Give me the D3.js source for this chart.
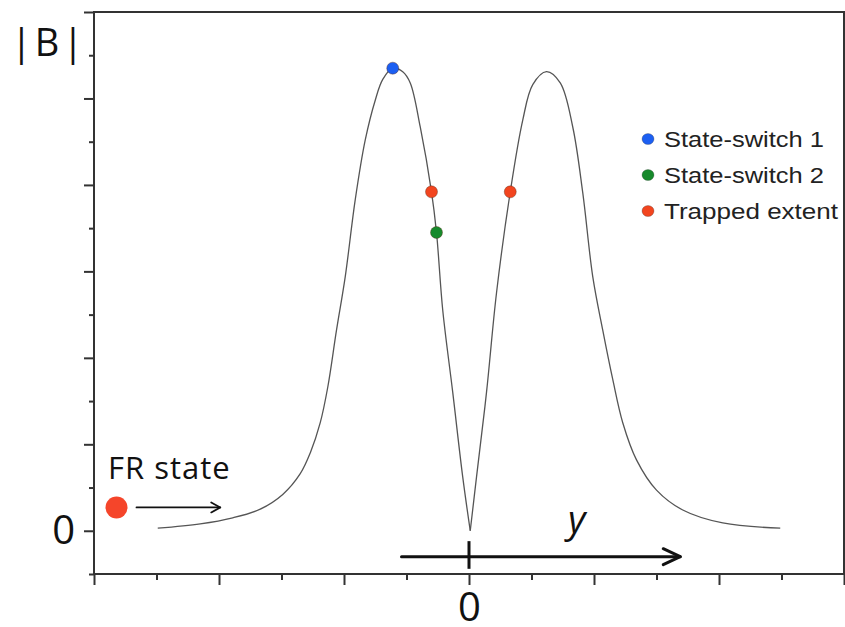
<!DOCTYPE html>
<html>
<head>
<meta charset="utf-8">
<script src="https://cdn.jsdelivr.net/npm/d3@7"></script>
<style>
  html, body { margin: 0; padding: 0; background: #fff; }
  svg { display: block; }
</style>
</head>
<body>
<svg id="chart" width="845" height="627"></svg>
<script>
// |B| profile along y: left branch (up to the null) and right branch (from the null)
const leftY = [-2.49, -2.15, -1.89, -1.67, -1.49, -1.35, -1.27, -1.19, -1.13, -1.06, -0.99, -0.91, -0.83, -0.75, -0.69, -0.61, -0.53, -0.47, -0.39, -0.30, -0.26, -0.21, -0.13, -0.05, 0.01];
const leftB = [0.03, 0.08, 0.15, 0.25, 0.42, 0.66, 0.90, 1.25, 1.66, 2.32, 2.94, 3.83, 4.52, 4.98, 5.22, 5.35, 5.31, 5.18, 4.67, 3.92, 3.45, 2.55, 1.60, 0.62, 0.00];
const rightY = [0.01, 0.06, 0.14, 0.22, 0.33, 0.43, 0.51, 0.62, 0.73, 0.83, 0.91, 0.99, 1.07, 1.15, 1.23, 1.34, 1.50, 1.71, 2.03, 2.49];
const rightB = [0.00, 0.62, 1.60, 2.75, 3.92, 4.75, 5.16, 5.31, 5.18, 4.67, 3.91, 2.94, 2.32, 1.75, 1.25, 0.82, 0.47, 0.24, 0.09, 0.03];

// marked points on the profile
const markerNames = ["State-switch 1", "Trapped extent", "Trapped extent", "State-switch 2"];
const markerY = [-0.61, -0.30, 0.33, -0.26];
const markerB = [5.35, 3.92, 3.92, 3.45];

// legend
const legendLabels = ["State-switch 1", "State-switch 2", "Trapped extent"];
const legendColors = ["#1c5ff2", "#178a2c", "#f2451f"];

// axis ticks
const majorYTicks = [0, 1, 2, 3, 4, 5, 6];
const minorYTicks = [-0.5, 0.5, 1.5, 2.5, 3.5, 4.5, 5.5];
const majorXTicks = [-3, -2, -1, 0, 1, 2, 3];
const minorXTicks = [-2.5, -1.5, -0.5, 0.5, 1.5, 2.5];

// FR state marker and its arrow, and the y direction arrow
const frState = { y: -2.82, b: 0.27, arrowFrom: -2.66, arrowTo: -1.99 };
const yArrow = { from: -0.54, to: 1.69, b: -0.30, tickTop: -0.12, tickBottom: -0.44 };

const colorOf = d3.scaleOrdinal().domain(legendLabels).range(legendColors);

const svg = d3.select("#chart");
const x = d3.scaleLinear().domain([-3, 3]).range([94, 844]);
const y = d3.scaleLinear().domain([-0.5, 6]).range([574, 12]);

const axisColor = "#333";

// frame
svg.append("rect")
  .attr("x", x(-3)).attr("y", y(6))
  .attr("width", x(3) - x(-3)).attr("height", y(-0.5) - y(6))
  .attr("fill", "none").attr("stroke", axisColor).attr("stroke-width", 2);

function styleAxis(g) {
  g.select(".domain").remove();
  g.selectAll(".tick line").attr("stroke", axisColor).attr("stroke-width", 2);
  g.selectAll("text").attr("fill", "#111")
    .style("font-family", "'Open Sans', sans-serif").style("font-size", "40px");
}

// y axis: major and minor ticks, only the zero is labelled
svg.append("g").attr("transform", `translate(${x(-3)},0)`)
  .call(d3.axisLeft(y).tickValues(majorYTicks).tickSize(10).tickSizeOuter(0).tickPadding(9)
    .tickFormat(d => d === 0 ? "0" : ""))
  .call(styleAxis);
svg.append("g").attr("transform", `translate(${x(-3)},0)`)
  .call(d3.axisLeft(y).tickValues(minorYTicks).tickSize(5).tickSizeOuter(0).tickFormat(""))
  .call(styleAxis);

// x axis
svg.append("g").attr("transform", `translate(0,${y(-0.5)})`)
  .call(d3.axisBottom(x).tickValues(majorXTicks).tickSize(11).tickSizeOuter(0).tickPadding(8)
    .tickFormat(d => d === 0 ? "0" : ""))
  .call(styleAxis);
svg.append("g").attr("transform", `translate(0,${y(-0.5)})`)
  .call(d3.axisBottom(x).tickValues(minorXTicks).tickSize(6).tickSizeOuter(0).tickFormat(""))
  .call(styleAxis);

// |B| label
svg.append("text")
  .attr("x", 11).attr("y", 56)
  .style("font-family", "'Open Sans', sans-serif").style("font-size", "38px")
  .style("letter-spacing", "3px")
  .attr("fill", "#111")
  .text("|B|");

// profile curve
const line = d3.line().x(d => x(d[0])).y(d => y(d[1])).curve(d3.curveCatmullRom.alpha(0.5));
[[leftY, leftB], [rightY, rightB]].forEach(([ys, bs]) => {
  svg.append("path")
    .datum(d3.zip(ys, bs))
    .attr("d", line)
    .attr("fill", "none")
    .attr("stroke", "#555")
    .attr("stroke-width", 1.3);
});

// markers on the curve
svg.append("g").selectAll("circle")
  .data(d3.zip(markerNames, markerY, markerB))
  .join("circle")
  .attr("cx", d => x(d[1]))
  .attr("cy", d => y(d[2]))
  .attr("r", 6)
  .attr("fill", d => colorOf(d[0]))
  .attr("stroke", "#5a2a1a")
  .attr("stroke-opacity", 0.5)
  .attr("stroke-width", 0.8);

// legend
const legend = svg.append("g");
legendLabels.forEach((label, i) => {
  const cy = 139 + i * 36;
  legend.append("ellipse")
    .attr("cx", 648).attr("cy", cy).attr("rx", 6).attr("ry", 5.5)
    .attr("fill", legendColors[i]).attr("stroke", "#333").attr("stroke-opacity", 0.4).attr("stroke-width", 0.7);
  legend.append("text")
    .attr("x", 664).attr("y", cy + 8)
    .style("font-family", "'Liberation Sans', Arial, sans-serif").style("font-size", "22px")
    .attr("textLength", label === "Trapped extent" ? 174 : 160)
    .attr("lengthAdjust", "spacingAndGlyphs")
    .attr("fill", "#222")
    .text(label);
});

// arrow helper: straight shaft with an open chevron head
function arrow(x1, x2, yy, width, headLen, headHalf) {
  const g = svg.append("g").attr("stroke", "#111").attr("fill", "none")
    .attr("stroke-width", width).attr("stroke-linecap", "round").attr("stroke-linejoin", "round");
  g.append("line").attr("x1", x1).attr("y1", yy).attr("x2", x2).attr("y2", yy);
  g.append("path").attr("d", `M${x2 - headLen},${yy - headHalf}L${x2},${yy}L${x2 - headLen},${yy + headHalf}`);
  return g;
}

// FR state
svg.append("circle")
  .attr("cx", x(frState.y)).attr("cy", y(frState.b)).attr("r", 11)
  .attr("fill", "#f5452a");
arrow(x(frState.arrowFrom), x(frState.arrowTo), y(frState.b), 1.8, 9, 5);
svg.append("text")
  .attr("x", 108).attr("y", 479)
  .style("font-family", "'Open Sans', sans-serif").style("font-size", "31px")
  .style("letter-spacing", "1px")
  .attr("fill", "#111")
  .text("FR state");

// y direction arrow with the origin mark
arrow(x(yArrow.from), x(yArrow.to), y(yArrow.b), 3, 17, 8);
svg.append("line")
  .attr("x1", x(0)).attr("x2", x(0))
  .attr("y1", y(yArrow.tickTop)).attr("y2", y(yArrow.tickBottom))
  .attr("stroke", "#111").attr("stroke-width", 3);
svg.append("text")
  .attr("x", 568).attr("y", 533)
  .style("font-family", "'Open Sans', sans-serif").style("font-size", "38px")
  .style("font-style", "italic")
  .attr("fill", "#111")
  .text("y");
</script>
</body>
</html>
